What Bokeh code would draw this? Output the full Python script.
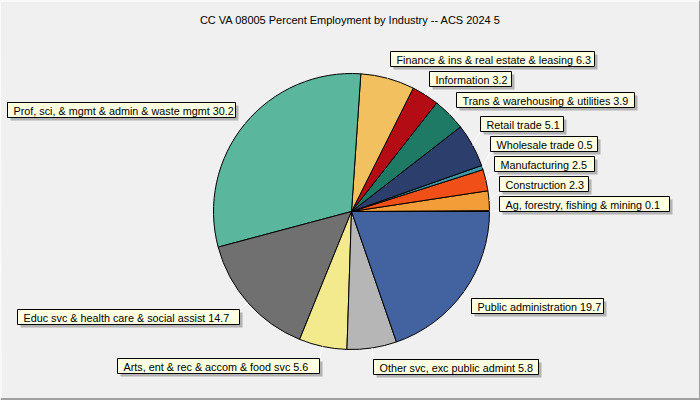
import numpy as np
from bokeh.plotting import figure
from bokeh.models import Range1d, ColumnDataSource
from bokeh.embed import file_html
from bokeh.resources import INLINE
from bokeh.core.properties import value

# ---- data -------------------------------------------------------------
title = "CC VA 08005 Percent Employment by Industry -- ACS 2024 5"
industries = [
    "Ag, forestry, fishing & mining",
    "Construction",
    "Manufacturing",
    "Wholesale trade",
    "Retail trade",
    "Trans & warehousing & utilities",
    "Information",
    "Finance & ins & real estate & leasing",
    "Prof, sci, & mgmt & admin & waste mgmt",
    "Educ svc & health care & social assist",
    "Arts, ent & rec & accom & food svc",
    "Other svc, exc public admint",
    "Public administration",
]
percent = [0.1, 2.3, 2.5, 0.5, 5.1, 3.9, 3.2, 6.3, 30.2, 14.7, 5.6, 5.8, 19.7]

# ---- styles / layout ---------------------------------------------------
colors = [
    "#8c5a2b", "#f29d38", "#f04f17", "#3f98aa", "#2c3e6b", "#1e7a64",
    "#b40c14", "#f2c05e", "#5bb69e", "#707070", "#f3ea8e", "#b6b6b6",
    "#4263a0",
]
# label box (left, top, right) in page pixels, measured from the top-left
label_boxes = [
    (499, 196, 669), (499, 176, 588), (494, 156, 594), (490, 136, 597),
    (480, 116, 563), (456, 92, 634), (429, 71, 511), (390, 51, 594),
    (7, 102, 235), (17, 309, 239), (117, 358, 319), (373, 359, 538),
    (471, 298, 603),
]
BOX_H = 15
W, H = 700, 400
CX, CY, R = 351, 211, 138
FONT = "Liberation Sans"
FONT_SIZE = "10.8px"
BG = "#f0f0f0"


def Y(py):
    return H - py


p = figure(width=W, height=H, output_backend="svg", toolbar_location=None,
           x_range=Range1d(0, W), y_range=Range1d(0, H), min_border=0)
p.axis.visible = False
p.grid.visible = False
p.outline_line_color = None
p.background_fill_color = BG
p.border_fill_color = BG

# window-style frame
p.segment(x0=[0, 0], y0=[Y(0.5), Y(0)], x1=[W, 0.5], y1=[Y(0.5), Y(H)],
          line_color="white", line_width=1)
p.segment(x0=[0, W - 0.5], y0=[Y(H - 1.5), Y(0)], x1=[W, W - 0.5], y1=[Y(H - 1.5), Y(H)],
          line_color="#a0a0a0", line_width=2)

# pie slices, counter-clockwise from 3 o'clock
vals = np.array(percent, dtype=float)
frac = vals / vals.sum()
ends = np.cumsum(frac) * 2 * np.pi
starts = np.concatenate([[0.0], ends[:-1]])
mids = (starts + ends) / 2

src = ColumnDataSource(dict(start=starts, end=ends, color=colors))
p.wedge(x=CX, y=Y(CY), radius=R, start_angle="start", end_angle="end",
        fill_color="color", line_color="black", line_width=1, source=src)

# leader lines from slice edge to the nearest point of its label box
lx0, ly0, lx1, ly1 = [], [], [], []
for m, (l, t, r) in zip(mids, label_boxes):
    ex = CX + R * np.cos(m)
    ey = CY - R * np.sin(m)
    nx = min(max(ex, l), r)
    ny = min(max(ey, t), t + BOX_H)
    lx0.append(ex); ly0.append(Y(ey)); lx1.append(nx); ly1.append(Y(ny))
p.segment(x0=lx0, y0=ly0, x1=lx1, y1=ly1, line_color="white", line_width=1)

# label boxes with drop shadow
lefts = [b[0] for b in label_boxes]
tops = [b[1] for b in label_boxes]
rights = [b[2] for b in label_boxes]
p.quad(left=[l + 3 for l in lefts], right=[r + 3 for r in rights],
       top=[Y(t + 3) for t in tops], bottom=[Y(t + 3 + BOX_H) for t in tops],
       fill_color="#8a8a8a", fill_alpha=0.6, line_color=None)
p.quad(left=lefts, right=rights, top=[Y(t) for t in tops],
       bottom=[Y(t + BOX_H) for t in tops],
       fill_color="#ffffe1", line_color="black", line_width=1)

labels = [f"{n} {v}" for n, v in zip(industries, percent)]
p.text(x=[l + 6 for l in lefts], y=[Y(t + BOX_H / 2 + 0.5) for t in tops], text=labels,
       text_font=value(FONT), text_font_size=FONT_SIZE, text_color="black",
       text_align="left", text_baseline="middle")

# chart title
p.text(x=[W / 2], y=[Y(19)], text=[title], text_font=value(FONT),
       text_font_size="11px", text_color="black", text_align="center",
       text_baseline="middle")

open("out.html", "w").write(file_html(p, INLINE))
